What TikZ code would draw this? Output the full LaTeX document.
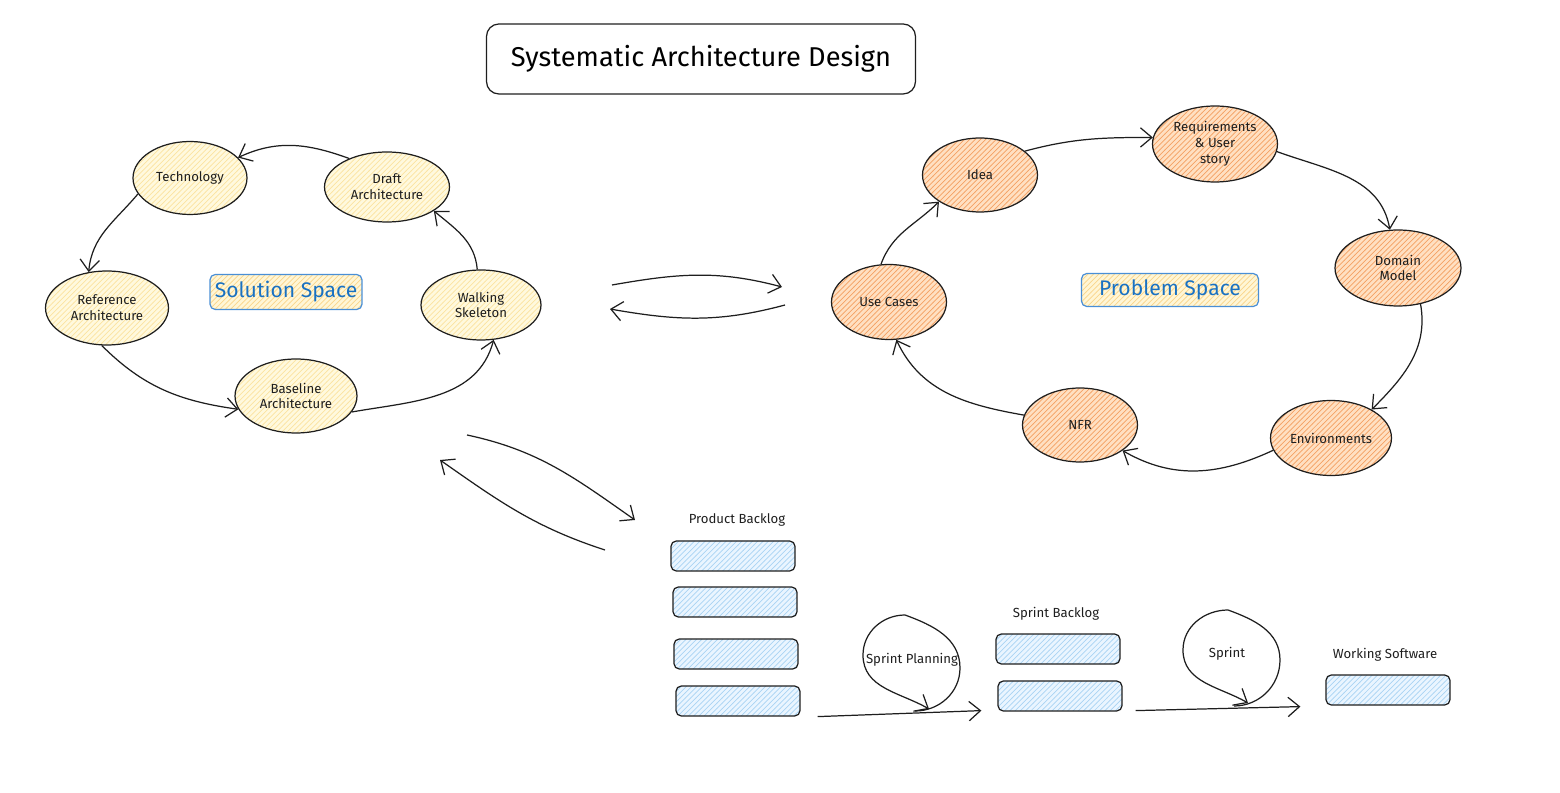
\documentclass[tikz,border=0pt]{standalone}
\usepackage{fontspec}
\setmainfont{Fira Sans}
\usetikzlibrary{arrows.meta,patterns,shapes.geometric}
\definecolor{ink}{HTML}{1E1E1E}
\definecolor{solfill}{HTML}{FFF9DE}
\definecolor{solhatch}{HTML}{FBE3A0}
\definecolor{tagfill}{HTML}{FFF6D6}
\definecolor{taghatch}{HTML}{FAD58A}
\definecolor{probfill}{HTML}{FFE0C2}
\definecolor{probhatch}{HTML}{F4A062}
\definecolor{itemfill}{HTML}{EAF5FF}
\definecolor{itemhatch}{HTML}{A9D3F3}
\definecolor{tagline}{HTML}{4A8FD6}
\definecolor{tagtext}{HTML}{1971C2}

\begin{document}
\begin{tikzpicture}[x=0.02cm, y=-0.02cm, line width=0.7pt, draw=ink,
    txt/.style={font=\fontsize{7.5}{9}\selectfont, text=ink, align=center},
    solnode/.style={txt, ellipse, draw=ink, inner sep=0pt,
      preaction={fill=solfill}, pattern=north east lines, pattern color=solhatch},
    probnode/.style={txt, ellipse, draw=ink, inner sep=0pt,
      preaction={fill=probfill}, pattern=north east lines, pattern color=probhatch},
    item/.style={draw=ink, rounded corners=3pt, minimum width=2.48cm, minimum height=0.6cm,
      preaction={fill=itemfill}, pattern=north east lines, pattern color=itemhatch},
    tag/.style={draw=tagline, rounded corners=3pt, text=tagtext, inner sep=0pt,
      font=\fontsize{12}{14}\selectfont,
      preaction={fill=tagfill}, pattern=north east lines, pattern color=taghatch},
    arr/.style={-{Straight Barb[length=6.5pt,width=11pt]}, draw=ink}]
  \useasboundingbox (0,0) rectangle (1560,793);

  % Title
  \node[draw=ink, rounded corners=7pt, minimum width=8.58cm, minimum height=1.4cm,
        font=\fontsize{15.5}{18}\selectfont] (title) at (701,59) {Systematic Architecture Design};

  % Solution space cycle
  \node[solnode, minimum width=2.28cm, minimum height=1.46cm] (tech) at (190,178) {Technology};
  \node[solnode, minimum width=2.5cm, minimum height=1.4cm] (draft) at (387,187) {Draft\\Architecture};
  \node[solnode, minimum width=2.46cm, minimum height=1.48cm] (ref) at (107,308) {Reference\\Architecture};
  \node[solnode, minimum width=2.4cm, minimum height=1.4cm] (walk) at (481,305) {Walking\\Skeleton};
  \node[solnode, minimum width=2.44cm, minimum height=1.48cm] (base) at (296,396) {Baseline\\Architecture};
  \node[tag, minimum width=3.04cm, minimum height=0.7cm] (soltag) at (286,292) {Solution Space};

  \draw[arr] (draft.143) to[out=160, in=25] (tech.23);
  \draw[arr] (tech.197) to[out=230, in=85] (ref.117);
  \draw[arr] (ref.262) to[out=-45, in=172] (base.193);
  \draw[arr] (base.-16) to[out=10, in=255] (walk.290);
  \draw[arr] (walk.96) to[out=95, in=-40] (draft.-27);

  % Problem space cycle
  \node[probnode, minimum width=2.3cm, minimum height=1.48cm] (idea) at (980,175) {Idea};
  \node[probnode, minimum width=2.5cm, minimum height=1.52cm] (req) at (1215,144) {Requirements\\\& User\\story};
  \node[probnode, minimum width=2.52cm, minimum height=1.52cm] (dom) at (1398,268) {Domain\\Model};
  \node[probnode, minimum width=2.3cm, minimum height=1.5cm] (use) at (889,302) {Use Cases};
  \node[probnode, minimum width=2.3cm, minimum height=1.48cm] (nfr) at (1080,425) {NFR};
  \node[probnode, minimum width=2.42cm, minimum height=1.5cm] (env) at (1331,438) {Environments};
  \node[tag, minimum width=3.54cm, minimum height=0.66cm] (probtag) at (1170,290) {Problem Space};

  \draw[arr] (idea.28) to[out=15, in=180] (req.174);
  \draw[arr] (req.-7) to[out=-20, in=100] (dom.102);
  \draw[arr] (dom.-58) to[out=-80, in=45] (env.35);
  \draw[arr] (env.192) to[out=205, in=-30] (nfr.-31);
  \draw[arr] (nfr.170) to[out=170, in=-65] (use.-79);
  \draw[arr] (use.102) to[out=70, in=225] (idea.213);

  % Links between the spaces and the backlog
  \coordinate (solr) at (612,285);
  \coordinate (probl) at (782,287);
  \coordinate (probl2) at (785,305);
  \coordinate (solr2) at (610,309);
  \coordinate (solb) at (467,435);
  \coordinate (backt) at (635,520);
  \coordinate (backt2) at (605,550);
  \coordinate (solb2) at (440,460);
  \draw[arr] (solr) to[out=10, in=165] (probl);
  \draw[arr] (probl2) to[out=195, in=-10] (solr2);
  \draw[arr] (solb) to[out=-12, in=145] (backt);
  \draw[arr] (backt2) to[out=162, in=-35] (solb2);

  % Product backlog
  \node[txt] (pblabel) at (737,520) {Product Backlog};
  \node[item] (pb1) at (733,556) {};
  \node[item] (pb2) at (735,602) {};
  \node[item] (pb3) at (736,654) {};
  \node[item] (pb4) at (738,701) {};

  % Sprint backlog
  \node[txt] (sblabel) at (1056,614) {Sprint Backlog};
  \node[item] (sb1) at (1058,649) {};
  \node[item] (sb2) at (1060,696) {};

  % Working software
  \node[txt] (wslabel) at (1385,655) {Working Software};
  \node[item] (ws) at (1388,690) {};

  % Flow along the bottom
  \draw[arr] ([xshift=0.34cm]pb4.south east) -- ([xshift=-0.32cm, yshift=0.02cm]sb2.south west);
  \draw[arr] ([xshift=0.26cm, yshift=0.02cm]sb2.south east) -- ([xshift=-0.5cm, yshift=-0.02cm]ws.south west);

  % Sprint planning loop
  \node[txt] (plan) at (912,660) {Sprint Planning};
  \coordinate (plana) at (915,711);
  \coordinate (planb) at (929,709);
  \draw[arr] (plana) to[out=0, in=-90] (960,668) to[out=90, in=-20] (905,615)
    to[out=180, in=90] (863,655) to[out=-90, in=150] (planb);

  % Sprint loop
  \node[txt] (sprint) at (1227,654) {Sprint};
  \coordinate (sprinta) at (1234,706);
  \coordinate (sprintb) at (1248,703);
  \draw[arr] (sprinta) to[out=0, in=-90] (1280,660) to[out=90, in=-20] (1228,610)
    to[out=180, in=90] (1183,650) to[out=-90, in=150] (sprintb);
\end{tikzpicture}
\end{document}
